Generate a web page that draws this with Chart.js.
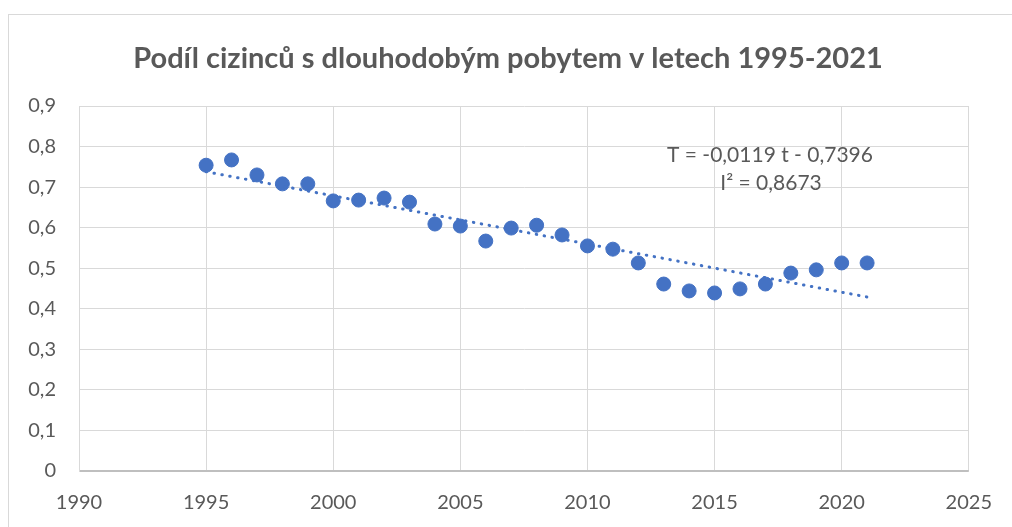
<!DOCTYPE html>
<html>
<head>
<meta charset="utf-8">
<script src="https://cdn.jsdelivr.net/npm/chart.js@4.4.0/dist/chart.umd.min.js"></script>
<style>
  html, body { margin: 0; padding: 0; background: #fff; }
  #wrap { width: 1012px; height: 527px; position: relative; }
</style>
</head>
<body>
<div id="wrap"><canvas id="chart"></canvas></div>
<script>
const chartTitle = 'Podíl cizinců s dlouhodobým pobytem v letech 1995-2021';
const years = [1995, 1996, 1997, 1998, 1999, 2000, 2001, 2002, 2003, 2004, 2005, 2006, 2007,
  2008, 2009, 2010, 2011, 2012, 2013, 2014, 2015, 2016, 2017, 2018, 2019, 2020, 2021];
const shares = [0.754, 0.767, 0.730, 0.708, 0.708, 0.666, 0.668, 0.673, 0.663, 0.609, 0.604, 0.567, 0.599,
  0.606, 0.582, 0.555, 0.547, 0.513, 0.461, 0.444, 0.439, 0.449, 0.461, 0.488, 0.496, 0.513, 0.513];
const trendYears = [1995, 2021];
const trendValues = [0.738, 0.429];
const equationLines = ['T = -0,0119 t - 0,7396', 'I² = 0,8673'];

const grey = '#595959';
const blue = '#4472c4';
const font = 'Lato, "Open Sans", sans-serif';

// frame, title and the trend equation
const extras = {
  id: 'extras',
  beforeDraw(chart) {
    const c = chart.ctx;
    c.save();
    c.fillStyle = '#fff';
    c.fillRect(0, 0, chart.width, chart.height);
    c.strokeStyle = '#d9d9d9';
    c.lineWidth = 1;
    c.strokeRect(8.5, 14.5, chart.width + 10, chart.height + 10);
    c.restore();
  },
  afterDraw(chart) {
    const c = chart.ctx;
    c.save();
    c.fillStyle = grey;
    c.textAlign = 'center';
    c.textBaseline = 'middle';
    c.font = 'bold 29px ' + font;
    c.fillText(chartTitle, 508, 59);
    c.font = '21px ' + font;
    c.fillText(equationLines[0], 770, 155);
    c.fillText(equationLines[1], 771, 183);
    c.restore();
  }
};

new Chart(document.getElementById('chart'), {
  type: 'scatter',
  data: {
    datasets: [{
      label: 'Podíl',
      data: years.map((y, i) => ({ x: y, y: shares[i] })),
      backgroundColor: blue,
      borderColor: blue,
      pointRadius: 7,
      pointHoverRadius: 7,
      showLine: false,
      order: 1
    }, {
      label: 'Trend',
      type: 'line',
      data: trendYears.map((y, i) => ({ x: y, y: trendValues[i] })),
      borderColor: blue,
      borderWidth: 3,
      borderDash: [0.5, 7.5],
      borderCapStyle: 'round',
      pointRadius: 0,
      fill: false,
      order: 0
    }]
  },
  options: {
    responsive: true,
    maintainAspectRatio: false,
    animation: false,
    layout: { padding: { left: 8, top: 106, right: 43, bottom: 0 } },
    scales: {
      x: {
        type: 'linear',
        min: 1990, max: 2025,
        afterFit: s => { s.height = 56; },
        ticks: {
          stepSize: 5, color: grey, font: { family: font, size: 20 }, padding: 20,
          callback: v => String(v)
        },
        grid: { color: '#d9d9d9', drawTicks: false },
        border: { display: false }
      },
      y: {
        min: 0, max: 0.9,
        afterFit: s => { s.width = 71; },
        ticks: {
          stepSize: 0.1, color: grey, font: { family: font, size: 20 }, padding: 23,
          callback: v => String(Math.round(v * 10) / 10).replace('.', ',')
        },
        grid: {
          drawTicks: false,
          color: ctx => ctx.tick && ctx.tick.value === 0 ? '#bfbfbf' : '#d9d9d9',
          lineWidth: ctx => ctx.tick && ctx.tick.value === 0 ? 2 : 1
        },
        border: { display: true, color: '#d9d9d9' }
      }
    },
    plugins: {
      legend: { display: false },
      tooltip: { enabled: false },
      title: { display: false }
    }
  },
  plugins: [extras]
});
</script>
</body>
</html>
